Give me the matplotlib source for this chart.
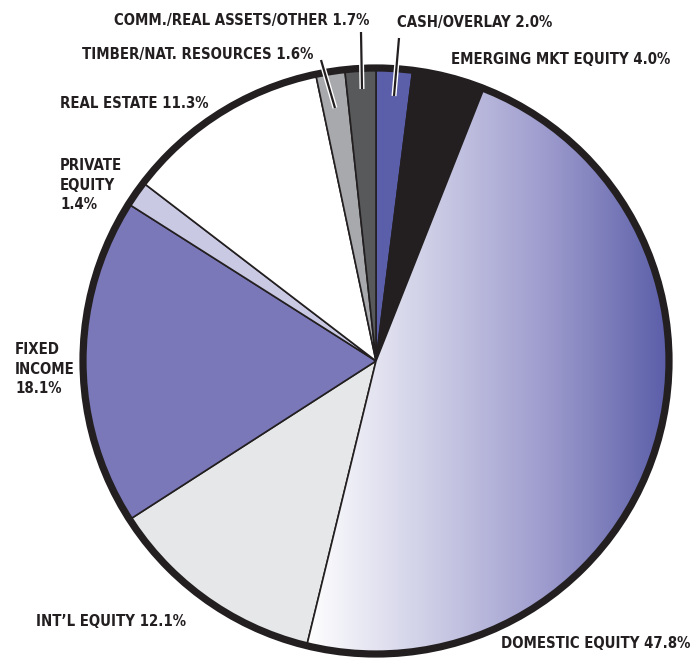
import numpy as np
import matplotlib
matplotlib.use("Agg")
import matplotlib.pyplot as plt
import matplotlib.patheffects as pe
from matplotlib.patches import Wedge, Circle
from matplotlib.colors import LinearSegmentedColormap

categories = ["CASH/OVERLAY", "EMERGING MKT EQUITY", "DOMESTIC EQUITY", "INT'L EQUITY",
              "FIXED INCOME", "PRIVATE EQUITY", "REAL ESTATE", "TIMBER/NAT. RESOURCES",
              "COMM./REAL ASSETS/OTHER"]
values = [2.0, 4.0, 47.8, 12.1, 18.1, 1.4, 11.3, 1.6, 1.7]
colors = ["#5b5ea8", "#231f20", "#ffffff", "#e6e7e8", "#7a78b8", "#c9c9e4", "#ffffff",
          "#a7a9ac", "#58595b"]

W, H = 700, 658
fig = plt.figure(figsize=(7, 6.58), dpi=100)
ax = fig.add_axes([0, 0, 1, 1])

cx, cy = 376, H - 361
R = 292
wedges, _ = ax.pie(values, colors=colors, startangle=90, counterclock=False,
                   center=(cx, cy), radius=R, frame=True,
                   wedgeprops=dict(edgecolor="#231f20", linewidth=1.2))
ax.set_xlim(0, W)
ax.set_ylim(0, H)
ax.set_aspect("equal")
ax.axis("off")

# gradient for domestic equity
dom = wedges[2]
grad = np.linspace(0, 1, 256).reshape(1, -1)
cmap = LinearSegmentedColormap.from_list("g", ["#ffffff", "#cfcfe7", "#9d9bcd", "#5b5ea8"])
im = ax.imshow(grad, cmap=cmap, extent=(cx - 70, cx + R, cy - R, cy + R),
               aspect="auto", zorder=dom.get_zorder() + 0.1)
im.set_clip_path(dom)
ax.add_patch(Wedge((cx, cy), R, dom.theta1, dom.theta2, facecolor="none",
                   edgecolor="#231f20", linewidth=1.2, zorder=3))

# outer border
ax.add_patch(Circle((cx, cy), R + 1, fill=False, edgecolor="#231f20", linewidth=5.2, zorder=5))

fam = ["DejaVu Sans"]
tc = "#231f20"

# fit one common font size to the reference label widths
renderer = fig.canvas.get_renderer()
probe = ax.text(0, 0, "COMM./REAL ASSETS/OTHER 1.7%", fontsize=10, fontweight="bold",
                family=fam, fontstretch="condensed")
wpx = probe.get_window_extent(renderer).width
probe.remove()
fs = 10 * 256.0 / wpx

def lab(x, y, s, ha="left", va="center"):
    ax.text(x, H - y, s, ha=ha, va=va, fontsize=fs, fontweight="bold", family=fam,
            fontstretch="condensed", color=tc, linespacing=1.4, zorder=6)

lab(114, 20, "COMM./REAL ASSETS/OTHER 1.7%")
lab(397, 22, "CASH/OVERLAY 2.0%")
lab(670, 60, "EMERGING MKT EQUITY 4.0%", ha="right")
lab(313, 54, "TIMBER/NAT. RESOURCES 1.6%", ha="right")
lab(60, 103, "REAL ESTATE 11.3%")
lab(60, 185, "PRIVATE\nEQUITY\n1.4%")
lab(15, 369, "FIXED\nINCOME\n18.1%")
lab(36, 622, "INT\u2019L EQUITY 12.1%")
lab(690, 643, "DOMESTIC EQUITY 47.8%", ha="right")

leaders = [((361, 32), (362, 89)), ((399, 38), (394, 96)), ((321, 60), (335, 108))]
for (x0, y0), (x1, y1) in leaders:
    ax.plot([x0, x1], [H - y0, H - y1], color="#231f20", linewidth=1.6, zorder=7,
            solid_capstyle="butt",
            path_effects=[pe.Stroke(linewidth=3.6, foreground="white"), pe.Normal()])

fig.savefig("out.png", dpi=100)
